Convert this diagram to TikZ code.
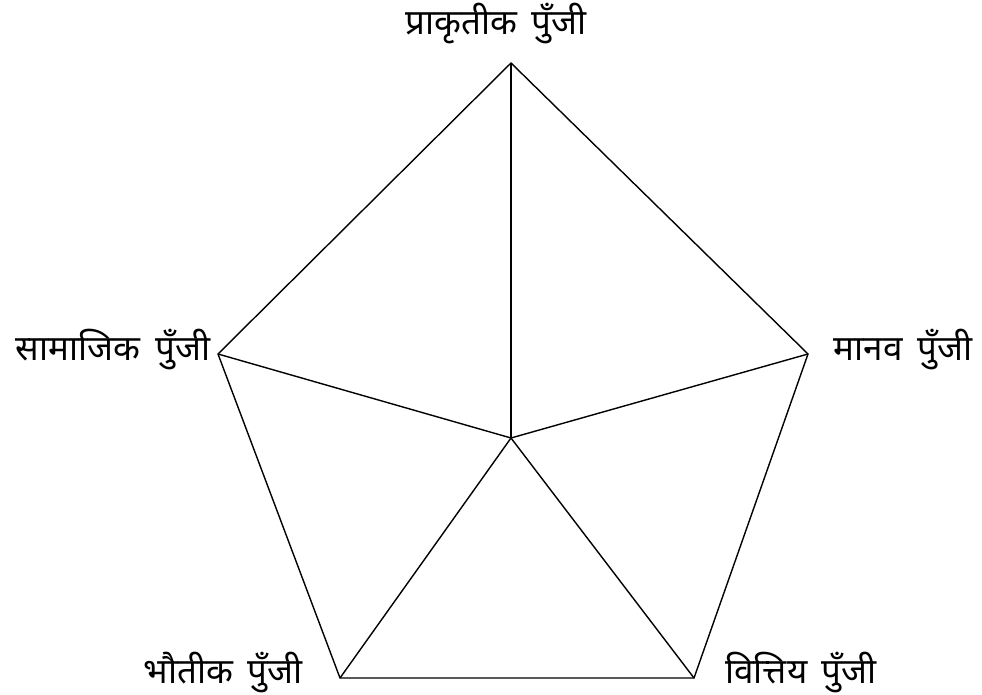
\documentclass[tikz,border=0pt]{standalone}
\usepackage{fontspec}
\newfontfamily\devfont[Script=Devanagari,WordSpace=1.6]{Noto Sans}
\usetikzlibrary{positioning}

\begin{document}
\begin{tikzpicture}[
    x=1pt,y=-1pt,
    edge/.style={draw=black,line width=1.4pt,line join=miter},
    capital/.style={font=\devfont\fontsize{35}{40}\selectfont,inner sep=0pt}
  ]
    \useasboundingbox (0,0) rectangle (982,695);
    \coordinate (nat) at (511,63);
    \coordinate (hum) at (808,354);
    \coordinate (fin) at (694,678);
    \coordinate (phy) at (340,678);
    \coordinate (soc) at (218,354);
    \coordinate (mid) at (511,438);

    \draw[edge] (nat) -- (hum) -- (fin) -- (phy) -- (soc) -- cycle;
    \draw[edge] (nat) -- (mid);
    \draw[edge] (hum) -- (mid);
    \draw[edge] (fin) -- (mid);
    \draw[edge] (phy) -- (mid);
    \draw[edge] (soc) -- (mid);

    \node[capital] (natlbl) at (496,24) {प्राकृतीक पुँजी};
    \node[capital] (humlbl) at (903,350) {मानव पुँजी};
    \node[capital] (finlbl) at (801,673) {वित्तिय पुँजी};
    \node[capital] (phylbl) at (223,673) {भौतीक पुँजी};
    \node[capital] (soclbl) at (113,350) {सामाजिक पुँजी};
\end{tikzpicture}
\end{document}
